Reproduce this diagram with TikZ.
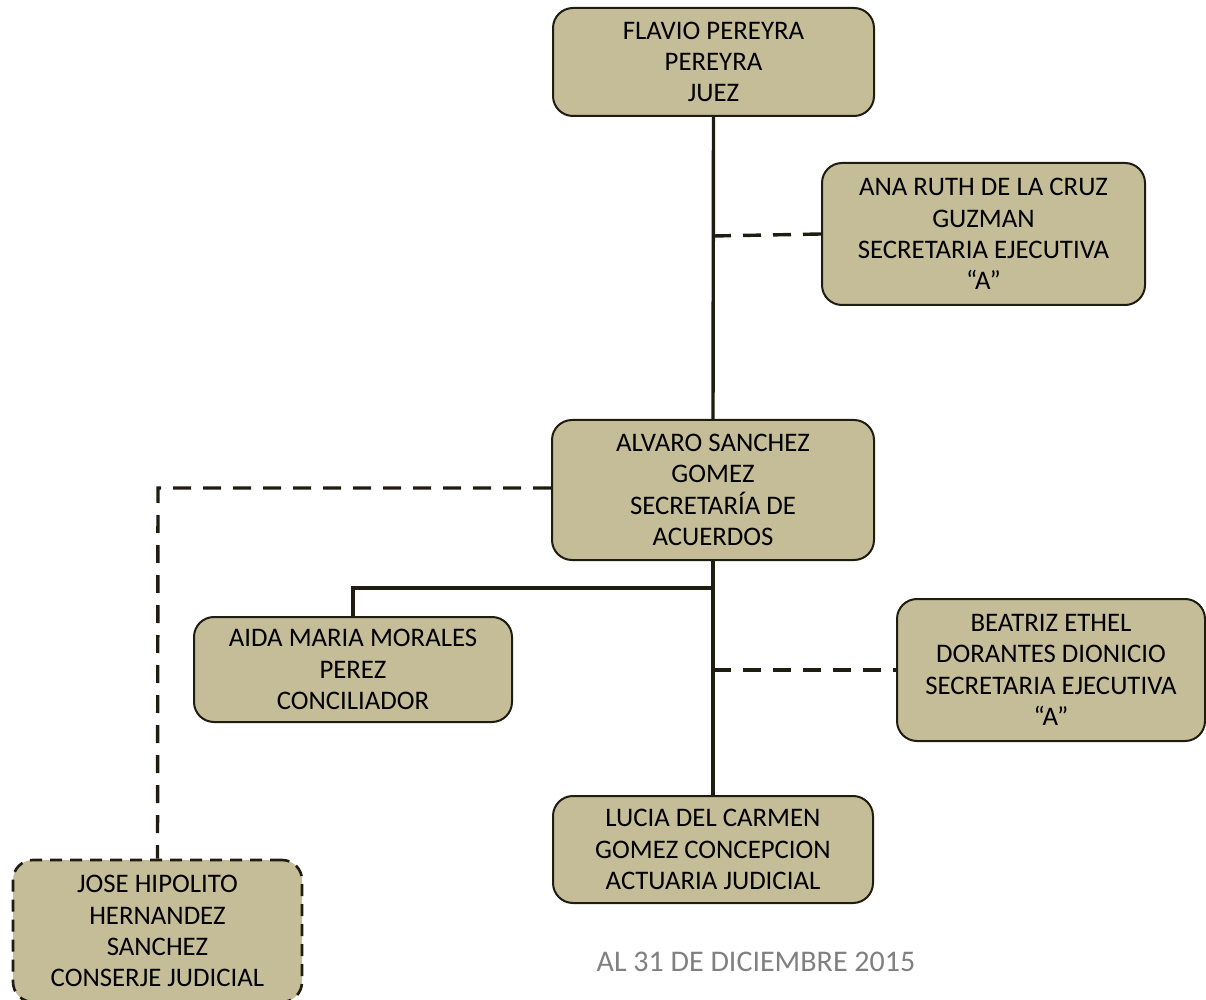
\documentclass[tikz,border=0pt]{standalone}
\usepackage{fontspec}
\setmainfont{Carlito}
\definecolor{boxfill}{HTML}{C4BD97}
\definecolor{lineclr}{HTML}{1F1C12}
\definecolor{dategray}{HTML}{808080}
\begin{document}
\begin{tikzpicture}[x=0.5pt,y=-0.5pt,
  person/.style={draw=lineclr, line width=1pt, fill=boxfill, rounded corners=10pt,
    align=center, inner sep=0pt, font=\fontsize{13.4}{15.6}\selectfont},
  solidlink/.style={draw=lineclr, line width=1.7pt},
  dashlink/.style={draw=lineclr, line width=1.7pt, dash pattern=on 9pt off 6pt},
  dashbox/.style={dash pattern=on 6pt off 4pt, line width=1.3pt}]
\useasboundingbox (0,0) rectangle (1206,1000);
\begin{scope}
\clip (0,0) rectangle (1206,1000);
\node[person, minimum width=160.5pt, minimum height=54pt] (juez) at (713.5,62) {FLAVIO PEREYRA\\PEREYRA\\JUEZ};
\node[person, minimum width=161.5pt, minimum height=71pt] (ana) at (983.5,234) {ANA RUTH DE LA CRUZ\\GUZMAN\\SECRETARIA EJECUTIVA\\“A”};
\node[person, minimum width=161pt, minimum height=70pt] (alvaro) at (713,490) {ALVARO SANCHEZ\\GOMEZ\\SECRETARÍA DE\\ACUERDOS};
\node[person, minimum width=159pt, minimum height=52.5pt] (aida) at (353,669.5) {AIDA MARIA MORALES\\PEREZ\\CONCILIADOR};
\node[person, minimum width=154pt, minimum height=71pt] (beatriz) at (1051,670) {BEATRIZ ETHEL\\DORANTES DIONICIO\\SECRETARIA EJECUTIVA\\“A”};
\node[person, minimum width=160pt, minimum height=53.5pt] (lucia) at (713,849.5) {LUCIA DEL CARMEN\\GOMEZ CONCEPCION\\ACTUARIA JUDICIAL};
\node[person, dashbox, minimum width=144.5pt, minimum height=71pt] (jose) at (157.5,931) {JOSE HIPOLITO\\HERNANDEZ\\SANCHEZ\\CONSERJE JUDICIAL};

\coordinate (j1) at (713,236);
\coordinate (j2) at (713,588);
\coordinate (j3) at (353,588);
\coordinate (j4) at (713,670);
\coordinate (j5) at (158,488);

\draw[solidlink] (juez.south) -- (alvaro.north);
\draw[dashlink] (j1) -- (ana.west);
\draw[solidlink] (alvaro.south) -- (lucia.north);
\draw[solidlink] (j2) -- (j3) -- (aida.north);
\draw[dashlink] (j4) -- (beatriz.west);
\draw[dashlink] (alvaro.west |- j5) -- (j5) -- (jose.north);

\node[text=dategray, font=\fontsize{15}{17}\selectfont, inner sep=0pt] (fecha) at (756,962) {AL 31 DE DICIEMBRE 2015};
\end{scope}
\end{tikzpicture}
\end{document}
